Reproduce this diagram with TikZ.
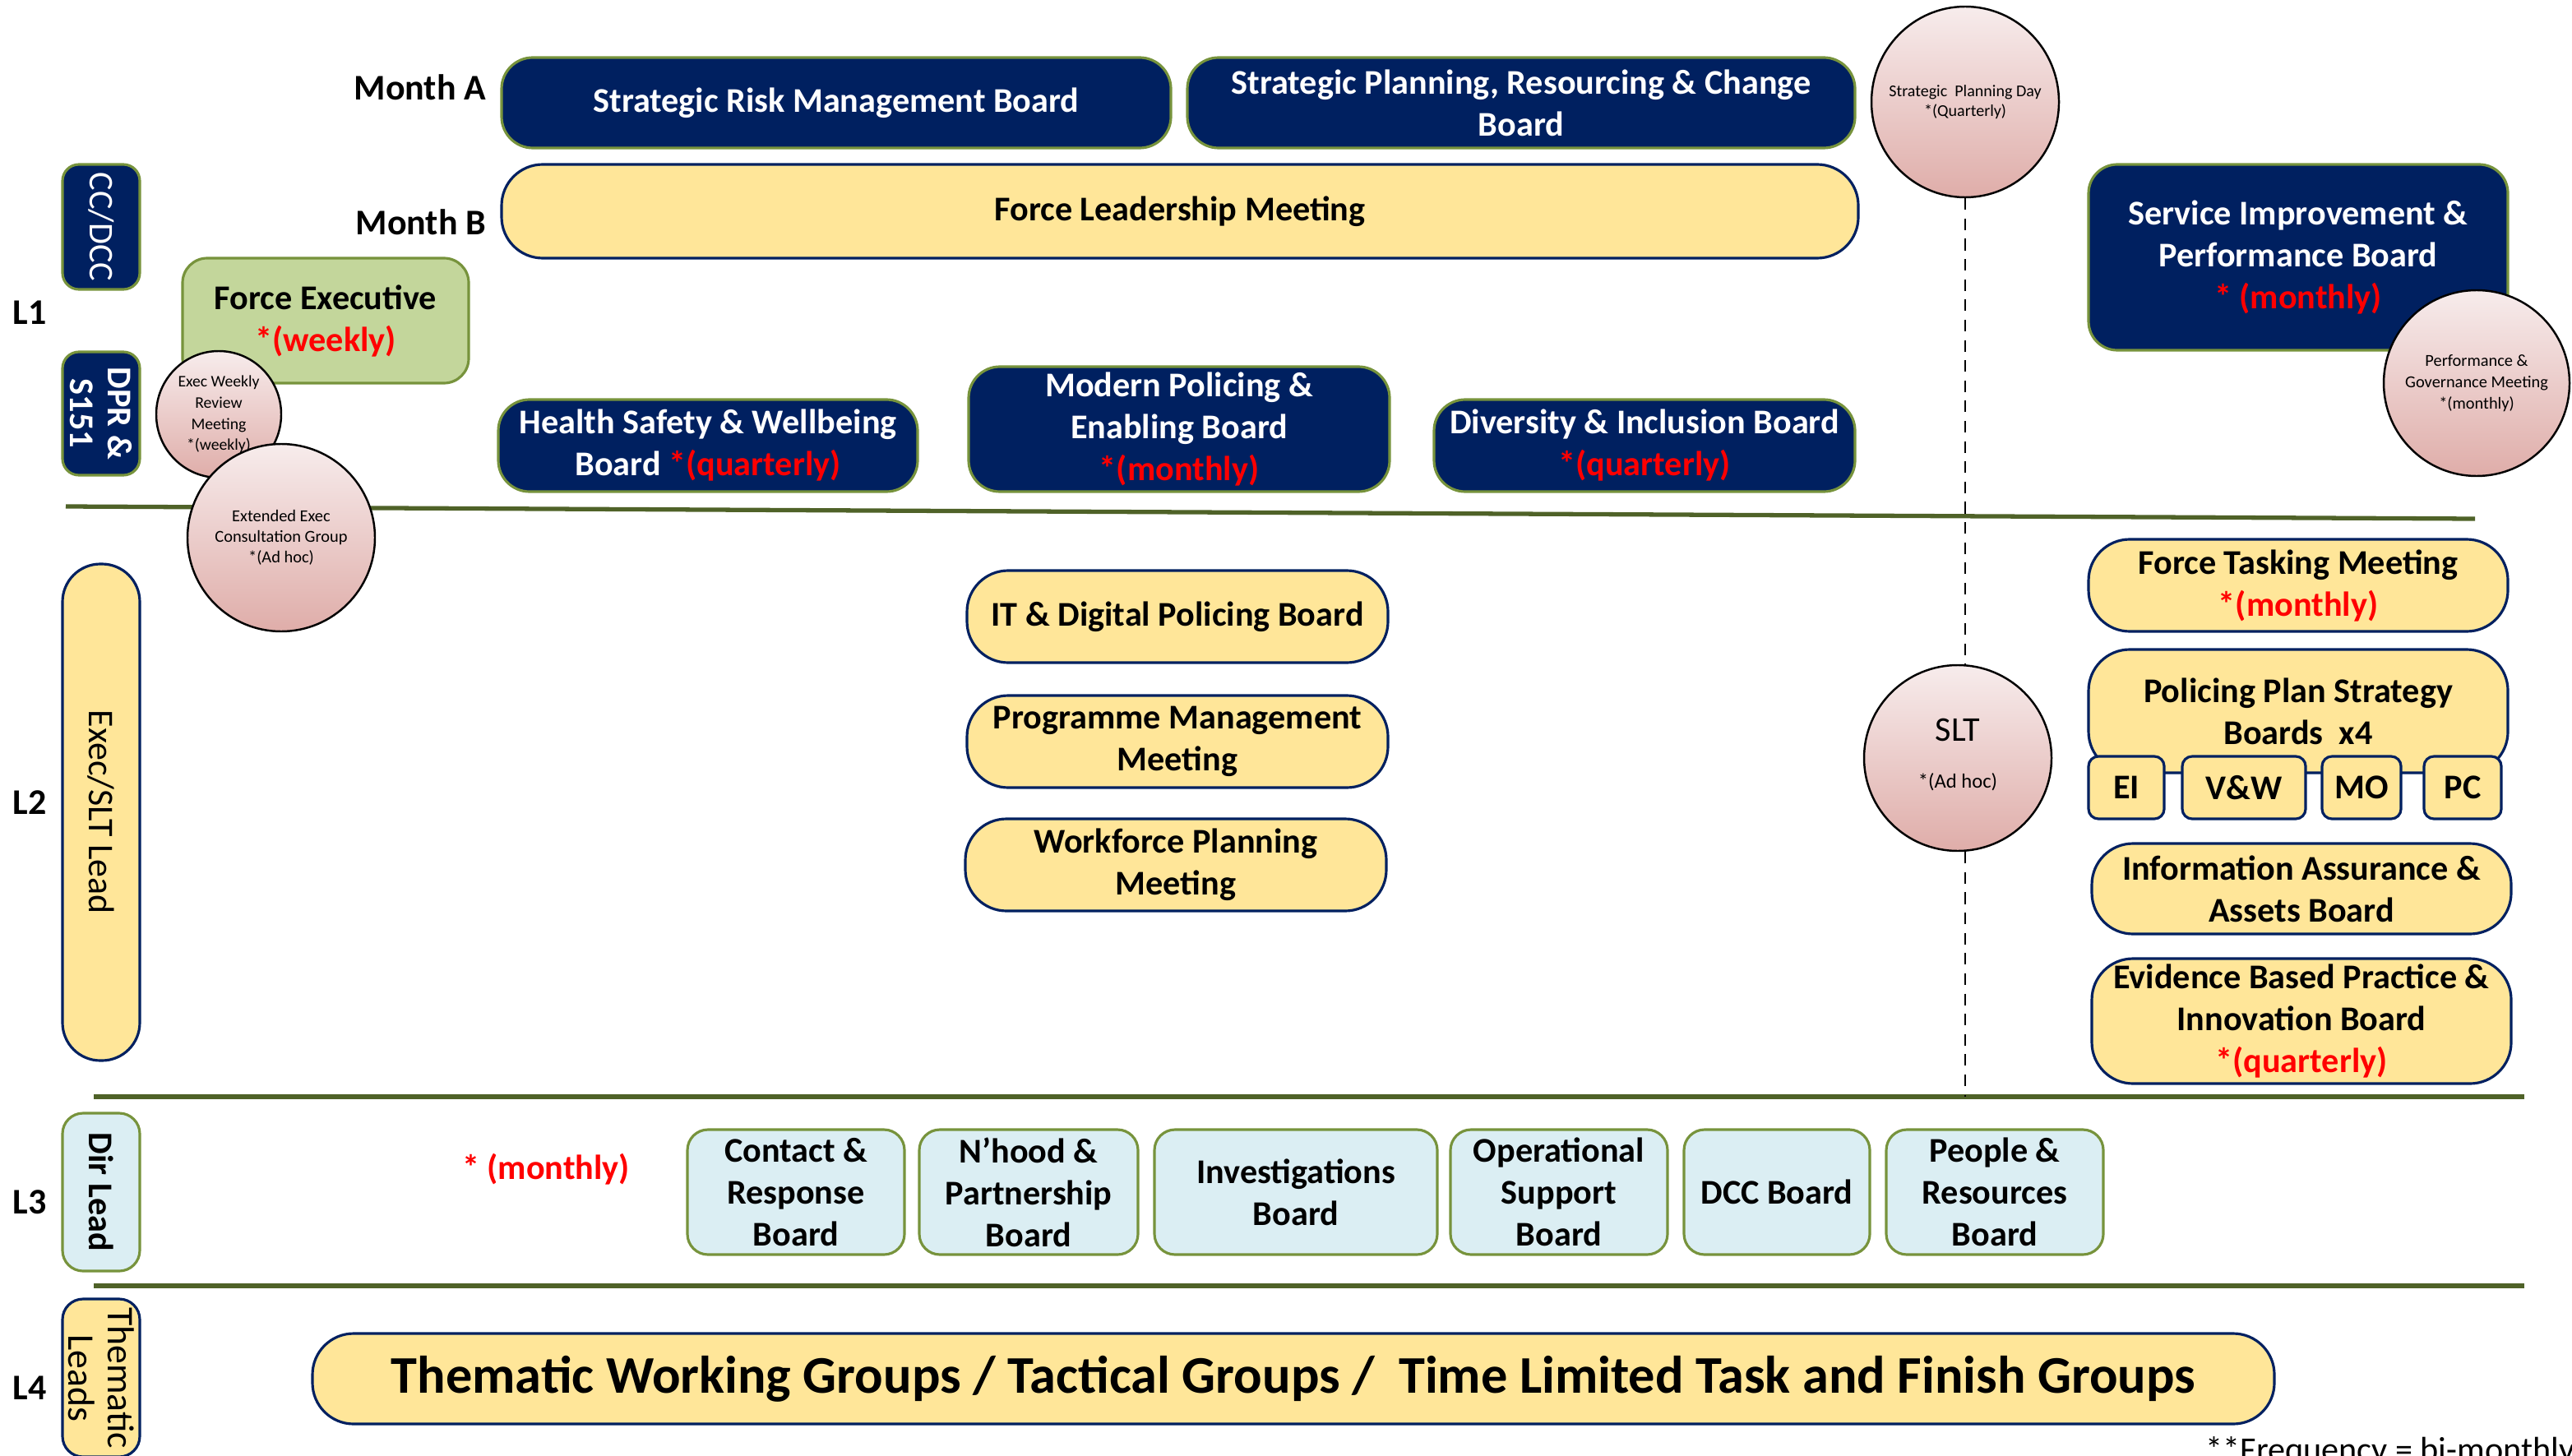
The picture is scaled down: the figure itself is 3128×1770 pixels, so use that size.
\documentclass[tikz,border=0pt]{standalone}
\usepackage{fontspec}
\setmainfont{Carlito}
\usetikzlibrary{shapes.geometric}

\definecolor{navy}{HTML}{002060}
\definecolor{boardyellow}{HTML}{FFE699}
\definecolor{execgreen}{HTML}{C3D69B}
\definecolor{dirblue}{HTML}{DBEEF3}
\definecolor{edgegreen}{HTML}{77933C}
\definecolor{ruleolive}{HTML}{4F6228}
\definecolor{pinktop}{HTML}{F7ECEC}
\definecolor{pinkbot}{HTML}{DFADA9}
\definecolor{freqred}{HTML}{FF0000}

\newcommand{\freq}[1]{\textcolor{freqred}{#1}}
\newcommand{\boardfont}{\fontsize{12}{14.5}\selectfont\bfseries}

\tikzset{
  wh/.style 2 args={minimum width=#1*0.01cm, minimum height=#2*0.01cm},
  navyboard/.style={draw=edgegreen, line width=0.9pt, fill=navy, text=white,
    rounded corners=0.38cm, align=center, inner sep=0pt, font=\boardfont},
  yellowpill/.style={draw=navy, line width=0.9pt, fill=boardyellow,
    rounded corners=0.5cm, align=center, inner sep=0pt, font=\boardfont},
  tagbox/.style={draw=navy, line width=0.9pt, fill=boardyellow,
    rounded corners=0.12cm, inner sep=0pt, font=\boardfont},
  dirbox/.style={draw=edgegreen, line width=0.9pt, fill=dirblue,
    rounded corners=0.25cm, align=center, inner sep=0pt, font=\boardfont},
  execbox/.style={draw=edgegreen, line width=0.9pt, fill=execgreen,
    rounded corners=0.3cm, align=center, inner sep=0pt, font=\boardfont},
  meeting/.style={ellipse, draw=black, line width=0.7pt,
    top color=pinktop, bottom color=pinkbot, inner sep=0pt},
  meettext/.style={align=center, inner sep=0pt},
  sidebar/.style={rotate=-90, align=center, inner sep=0pt, line width=0.9pt},
  level/.style={inner sep=0pt, font=\fontsize{12.5}{14}\selectfont\bfseries},
  rule/.style={draw=ruleolive, line width=1.5pt},
  sltline/.style={dash pattern=on 4pt off 3pt, line width=0.8pt}
}

\begin{document}
\begin{tikzpicture}[x=0.01cm, y=-0.01cm]
  \useasboundingbox (0,0) rectangle (3128,1770);

  \coordinate (r1w) at (80,616);
  \coordinate (r1e) at (3010,631);
  \coordinate (r2w) at (114,1334);
  \coordinate (r2e) at (3070,1334);
  \coordinate (r3w) at (114,1564);
  \coordinate (r3e) at (3070,1564);
  \draw[rule] (r1w) -- (r1e);
  \draw[rule] (r2w) -- (r2e);
  \draw[rule] (r3w) -- (r3e);

  \node[level] (l1) at (36,380) {L1};
  \node[level] (l2) at (36,976) {L2};
  \node[level] (l3) at (36,1462) {L3};
  \node[level] (l4) at (36,1688) {L4};
  \node[level, anchor=east] (montha) at (592,106) {Month A};
  \node[level, anchor=east] (monthb) at (592,270) {Month B};

  \node[sidebar, wh={152}{94}, draw=edgegreen, fill=navy, text=white,
    rounded corners=0.2cm, font=\fontsize{12}{14}\selectfont] (ccdcc) at (123,276) {CC/DCC};
  \node[sidebar, wh={150}{94}, draw=edgegreen, fill=navy, text=white,
    rounded corners=0.2cm, font=\fontsize{12}{13}\selectfont\bfseries] (dpr) at (123,503) {DPR \&\\S151};
  \node[sidebar, wh={604}{94}, draw=navy, fill=boardyellow,
    rounded corners=0.46cm, font=\fontsize{12.5}{14}\selectfont] (execslt) at (123,988) {Exec/SLT Lead};
  \node[sidebar, wh={192}{94}, draw=edgegreen, fill=dirblue,
    rounded corners=0.25cm, font=\fontsize{12}{14}\selectfont\bfseries] (dirlead) at (123,1450) {Dir Lead};
  \node[sidebar, wh={192}{94}, draw=navy, fill=boardyellow,
    rounded corners=0.25cm, font=\fontsize{13}{13.5}\selectfont] (themlead) at (123,1676) {Thematic\\Leads};

  \node[navyboard, wh={814}{110}] (srmb) at (1017,125) {Strategic Risk Management Board};
  \node[navyboard, wh={812}{110}] (sprc) at (1850,125) {Strategic Planning, Resourcing \& Change\\Board};
  \node[yellowpill, wh={1650}{114}] (flm) at (1435,257) {Force Leadership Meeting};
  \node[navyboard, wh={510}{226}, rounded corners=0.35cm] (sipb) at (2795,313)
    {Service Improvement \&\\Performance Board\\\freq{* (monthly)}};
  \node[execbox, wh={348}{152}] (fexec) at (396,390) {Force Executive\\\freq{*(weekly)}};
  \node[navyboard, wh={510}{112}] (hswb) at (861,542) {Health Safety \& Wellbeing\\Board \freq{*(quarterly)}};
  \node[navyboard, wh={512}{152}] (mpeb) at (1434,522) {Modern Policing \&\\Enabling Board\\\freq{*(monthly)}};
  \node[navyboard, wh={512}{112}] (dib) at (2000,542) {Diversity \& Inclusion Board\\\freq{*(quarterly)}};

  \node[meeting, wh={228}{232}] (spd) at (2390,124) {};
  \node[meettext, font=\fontsize{5.7}{6.9}\selectfont] (spdt) at (2390,124) {Strategic~ Planning Day\\*(Quarterly)};
  \node[meeting, wh={226}{226}] (pgm) at (3012,466) {};
  \node[meettext, font=\fontsize{5.8}{7.4}\selectfont] (pgmt) at (3012,466) {Performance \&\\Governance Meeting\\*(monthly)};
  \node[meeting, wh={152}{154}] (ewrm) at (266,504) {};
  \node[meettext, font=\fontsize{5.6}{7.3}\selectfont] (ewrmt) at (266,504) {Exec Weekly\\Review\\Meeting\\*(weekly)};
  \node[meeting, wh={228}{228}] (eecg) at (342,654) {};
  \node[meettext, font=\fontsize{5.8}{7.1}\selectfont] (eecgt) at (342,654) {Extended Exec\\Consultation Group\\*(Ad hoc)};
  \node[meeting, wh={228}{226}] (slt) at (2381,922) {};
  \node[meettext, font=\fontsize{12}{14}\selectfont] (sltt) at (2381,918)
    {SLT\\[2pt]{\fontsize{7}{8}\selectfont *(Ad hoc)}};

  \node[yellowpill, wh={512}{112}] (itdp) at (1432,750) {IT \& Digital Policing Board};
  \node[yellowpill, wh={512}{112}] (pmm) at (1432,902) {Programme Management\\Meeting};
  \node[yellowpill, wh={512}{112}] (wpm) at (1430,1052) {Workforce Planning\\Meeting};

  \node[yellowpill, wh={510}{112}] (ftm) at (2795,712) {Force Tasking Meeting\\\freq{*(monthly)}};
  \node[yellowpill, wh={510}{150}] (pps) at (2795,865) {Policing Plan Strategy\\Boards~ x4};
  \node[tagbox, wh={92}{76}] (ei) at (2586,958) {EI};
  \node[tagbox, wh={150}{76}] (vw) at (2729,958) {V\&W};
  \node[tagbox, wh={96}{76}] (mo) at (2872,958) {MO};
  \node[tagbox, wh={94}{76}] (pc) at (2995,958) {PC};
  \node[yellowpill, wh={510}{110}] (iaab) at (2799,1081) {Information Assurance \&\\Assets Board};
  \node[yellowpill, wh={510}{152}] (ebpi) at (2799,1242)
    {Evidence Based Practice \&\\Innovation Board\\\freq{*(quarterly)}};

  \draw[sltline] (spd.south) -- (spd.south |- slt.north);
  \coordinate (sltend) at (2390,1334);
  \draw[sltline] (spd.south |- slt.south) -- (sltend);

  \node[inner sep=0pt, font=\boardfont] (l3freq) at (664,1422) {\freq{* (monthly)}};
  \node[dirbox, wh={264}{152}] (crb) at (968,1450) {Contact \&\\Response\\Board};
  \node[dirbox, wh={266}{152}] (npb) at (1251,1450) {N’hood \&\\Partnership\\Board};
  \node[dirbox, wh={344}{152}] (invb) at (1576,1450) {Investigations\\Board};
  \node[dirbox, wh={264}{152}] (osb) at (1896,1450) {Operational\\Support\\Board};
  \node[dirbox, wh={226}{152}] (dccb) at (2161,1450) {DCC Board};
  \node[dirbox, wh={264}{152}] (prb) at (2426,1450) {People \&\\Resources\\Board};

  \node[yellowpill, wh={2386}{110}, font=\fontsize{18.3}{20}\selectfont\bfseries] (twg) at (1573,1677)
    {Thematic Working Groups / Tactical Groups /~ Time Limited Task and Finish Groups};
  \node[anchor=north west, inner sep=0pt, font=\fontsize{12}{14}\selectfont] (bimonth) at (2682,1747)
    {**Frequency = bi-monthly};
\end{tikzpicture}
\end{document}
